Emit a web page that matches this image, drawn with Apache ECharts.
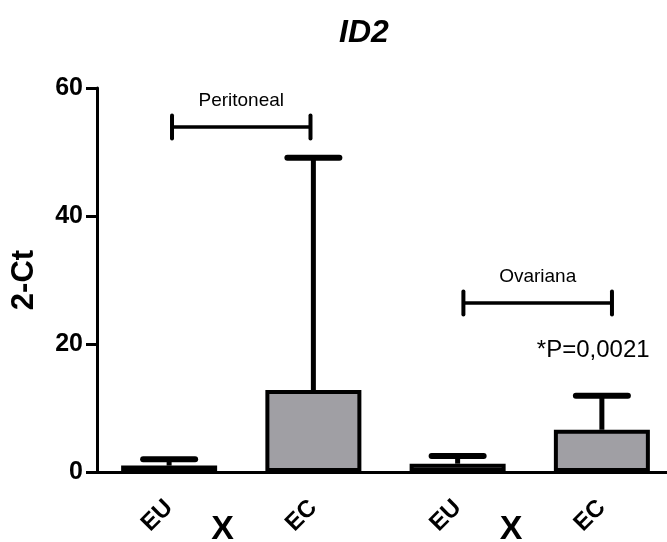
<!DOCTYPE html>
<html>
<head>
<meta charset="utf-8">
<script src="https://cdn.jsdelivr.net/npm/echarts@6/dist/echarts.min.js"></script>
<style>
  html, body { margin: 0; padding: 0; background: #fff; }
  #chart { width: 667px; height: 542px; }
</style>
</head>
<body>
<div id="chart"></div>
<script>
// Group labels and bar heights (mean) with upper error limits
const categories = ['EU', 'EC', 'EU', 'EC'];
const means = [1.0, 12.8, 1.3, 6.6];
const upperErr = [2.0, 49.1, 2.5, 11.9];

// Y axis range
const yMin = 0;
const yMax = 60;
const yStep = 20;

// Comparison brackets (positions in category units, level in y units)
const bracketLabels = ['Peritoneal', 'Ovariana'];
const bracketFrom = [0.02, 2.04];
const bracketTo = [0.98, 3.07];
const bracketLevel = [53.9, 26.4];

// Free text annotations
const noteTexts = ['*P=0,0021', 'X', 'X'];
const noteX = [2.94, 0.37, 2.37];
const noteY = [19.0, -9.0, -9.0];

const FONT = '"Liberation Sans", Arial, Helvetica, sans-serif';

const chart = echarts.init(document.getElementById('chart'), null, { renderer: 'canvas' });

const errorData = categories.map((c, i) => [i, means[i], upperErr[i]]);
const bracketData = bracketLabels.map((l, i) => [bracketFrom[i], bracketTo[i], bracketLevel[i], l]);
const noteData = noteTexts.map((t, i) => [noteX[i], noteY[i], t]);

chart.setOption({
  animation: false,
  backgroundColor: '#fff',
  title: {
    text: 'ID2',
    left: 334,
    top: 12,
    textStyle: { fontFamily: FONT, fontSize: 32, fontWeight: 'bold', fontStyle: 'italic', color: '#000' }
  },
  grid: { left: 97, top: 88, width: 577, height: 384, outerBoundsMode: 'none' },
  xAxis: [
    {
      type: 'category',
      data: categories,
      boundaryGap: true,
      axisLine: { onZero: false, lineStyle: { color: '#000', width: 3 } },
      axisTick: { alignWithLabel: true, length: 13, lineStyle: { color: '#000', width: 3 } },
      axisLabel: {
        rotate: 45, margin: 32, color: '#000',
        fontFamily: FONT, fontSize: 24, fontWeight: 'bold'
      },
      splitLine: { show: false }
    },
    {
      type: 'value', min: -0.5, max: 3.5, show: false, gridIndex: 0,
      axisLine: { onZero: false }
    }
  ],
  yAxis: {
    type: 'value',
    min: yMin, max: yMax, interval: yStep,
    name: '2-Ct',
    nameLocation: 'middle',
    nameRotate: 90,
    nameGap: 57,
    nameTextStyle: { fontFamily: FONT, fontSize: 31, fontWeight: 'bold', color: '#000' },
    axisLine: { show: true, onZero: false, lineStyle: { color: '#000', width: 3 } },
    axisTick: { show: true, length: 11, lineStyle: { color: '#000', width: 3 } },
    axisLabel: { margin: 14, color: '#000', fontFamily: FONT, fontSize: 25, fontWeight: 'bold' },
    splitLine: { show: false }
  },
  series: [
    {
      type: 'bar',
      data: means,
      barWidth: 96,
      itemStyle: { color: '#a09fa4', borderColor: '#000', borderWidth: 4 },
      z: 2
    },
    {
      // upper error bars with caps
      type: 'custom',
      xAxisIndex: 0,
      data: errorData,
      z: 3,
      renderItem: function (params, api) {
        const x = api.value(0);
        const p0 = api.coord([x, api.value(1)]);
        const p1 = api.coord([x, api.value(2)]);
        const hw = 26;
        return {
          type: 'group',
          children: [
            { type: 'line', shape: { x1: p0[0], y1: p0[1], x2: p1[0], y2: p1[1] },
              style: { stroke: '#000', lineWidth: 5 } },
            { type: 'line', shape: { x1: p1[0] - hw, y1: p1[1], x2: p1[0] + hw, y2: p1[1] },
              style: { stroke: '#000', lineWidth: 6, lineCap: 'round' } }
          ]
        };
      }
    },
    {
      // comparison brackets with their labels
      type: 'custom',
      xAxisIndex: 1,
      data: bracketData,
      clip: false,
      z: 4,
      renderItem: function (params, api) {
        const d = bracketData[params.dataIndex];
        const a = api.coord([d[0], d[2]]);
        const b = api.coord([d[1], d[2]]);
        const h = 11.5;
        const st = { stroke: '#000', lineWidth: 4, lineCap: 'round' };
        return {
          type: 'group',
          children: [
            { type: 'line', shape: { x1: a[0], y1: a[1], x2: b[0], y2: b[1] }, style: { stroke: '#000', lineWidth: 3.5 } },
            { type: 'line', shape: { x1: a[0], y1: a[1] - h, x2: a[0], y2: a[1] + h }, style: st },
            { type: 'line', shape: { x1: b[0], y1: b[1] - h, x2: b[0], y2: b[1] + h }, style: st },
            { type: 'text', x: (a[0] + b[0]) / 2, y: a[1] - 26,
              style: { text: d[3], fill: '#000', font: '19px ' + FONT, align: 'center', verticalAlign: 'middle' } }
          ]
        };
      }
    },
    {
      // free text notes
      type: 'custom',
      xAxisIndex: 1,
      data: noteData,
      clip: false,
      z: 4,
      renderItem: function (params, api) {
        const d = noteData[params.dataIndex];
        const p = api.coord([d[0], d[1]]);
        const isX = d[2] === 'X';
        return {
          type: 'text', x: p[0], y: p[1],
          style: {
            text: d[2], fill: '#000',
            font: isX ? ('bold 34px ' + FONT) : ('24px ' + FONT),
            align: 'center', verticalAlign: 'middle'
          }
        };
      }
    }
  ]
});
</script>
</body>
</html>
